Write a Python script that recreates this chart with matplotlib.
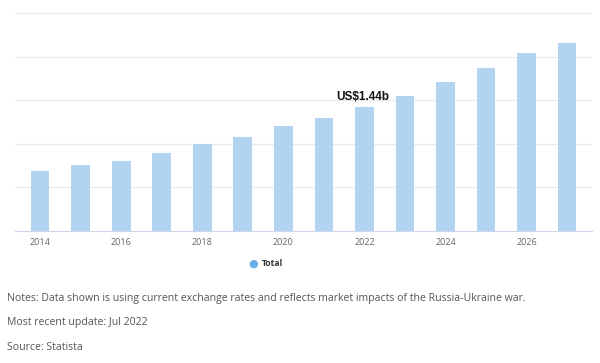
import matplotlib.pyplot as plt
import numpy as np

years = list(range(2014, 2028))
revenue = [0.70, 0.77, 0.82, 0.91, 1.01, 1.10, 1.22, 1.32, 1.44, 1.57, 1.74, 1.90, 2.07, 2.19]
tick_years = [2014, 2016, 2018, 2020, 2022, 2024, 2026]
highlight_year = 2022
highlight_label = 'US$1.44b'

notes = [
    'Notes: Data shown is using current exchange rates and reflects market impacts of the Russia-Ukraine war.',
    'Most recent update: Jul 2022',
    'Source: Statista',
]

fig = plt.figure(figsize=(6, 3.63), dpi=100)
ax = fig.add_axes([0.025, 0.3636, 0.962, 0.6006])

x = np.arange(len(years))
ax.bar(x, revenue, width=0.46, color='#b3d4f1', zorder=2)

ymax = 2.54
ax.set_xlim(-0.62, len(years) - 1 + 0.62)
ax.set_ylim(0, ymax)
ax.set_yticks(np.linspace(0, ymax, 6)[1:])
ax.set_yticklabels([])
ax.tick_params(axis='y', length=0)
ax.grid(axis='y', color='#ebebeb', linewidth=0.8, zorder=0)

ax.set_xticks([years.index(y) for y in tick_years])
ax.set_xticklabels([str(y) for y in tick_years], fontsize=6.5, color='#666666',
                   family='Open Sans')
ax.tick_params(axis='x', length=0, pad=5)

for s in ['top', 'right', 'left']:
    ax.spines[s].set_visible(False)
ax.spines['bottom'].set_color('#ccd6eb')
ax.spines['bottom'].set_linewidth(0.8)

i = years.index(highlight_year)
ax.annotate(highlight_label, (i - 0.05, revenue[i]), xytext=(0, 3),
            textcoords='offset points', ha='center', va='bottom',
            fontsize=8.5, fontweight='bold', color='#111111', family='Liberation Sans')

# legend
fig.text(0.4217, 1 - 264 / 363, '\u25cf', fontsize=8, color='#6caee6',
         ha='center', va='center', family='DejaVu Sans')
fig.text(0.437, 1 - 264 / 363, 'Total', fontsize=6.2, fontweight='bold',
         color='#333333', ha='left', va='center', family='Open Sans')

for k, line in enumerate(notes):
    fig.text(7 / 600, 1 - (298 + 25 * k) / 363, line, fontsize=7.6, color='#555555',
             ha='left', va='center', family='Open Sans')

fig.savefig('out.png', dpi=100)
